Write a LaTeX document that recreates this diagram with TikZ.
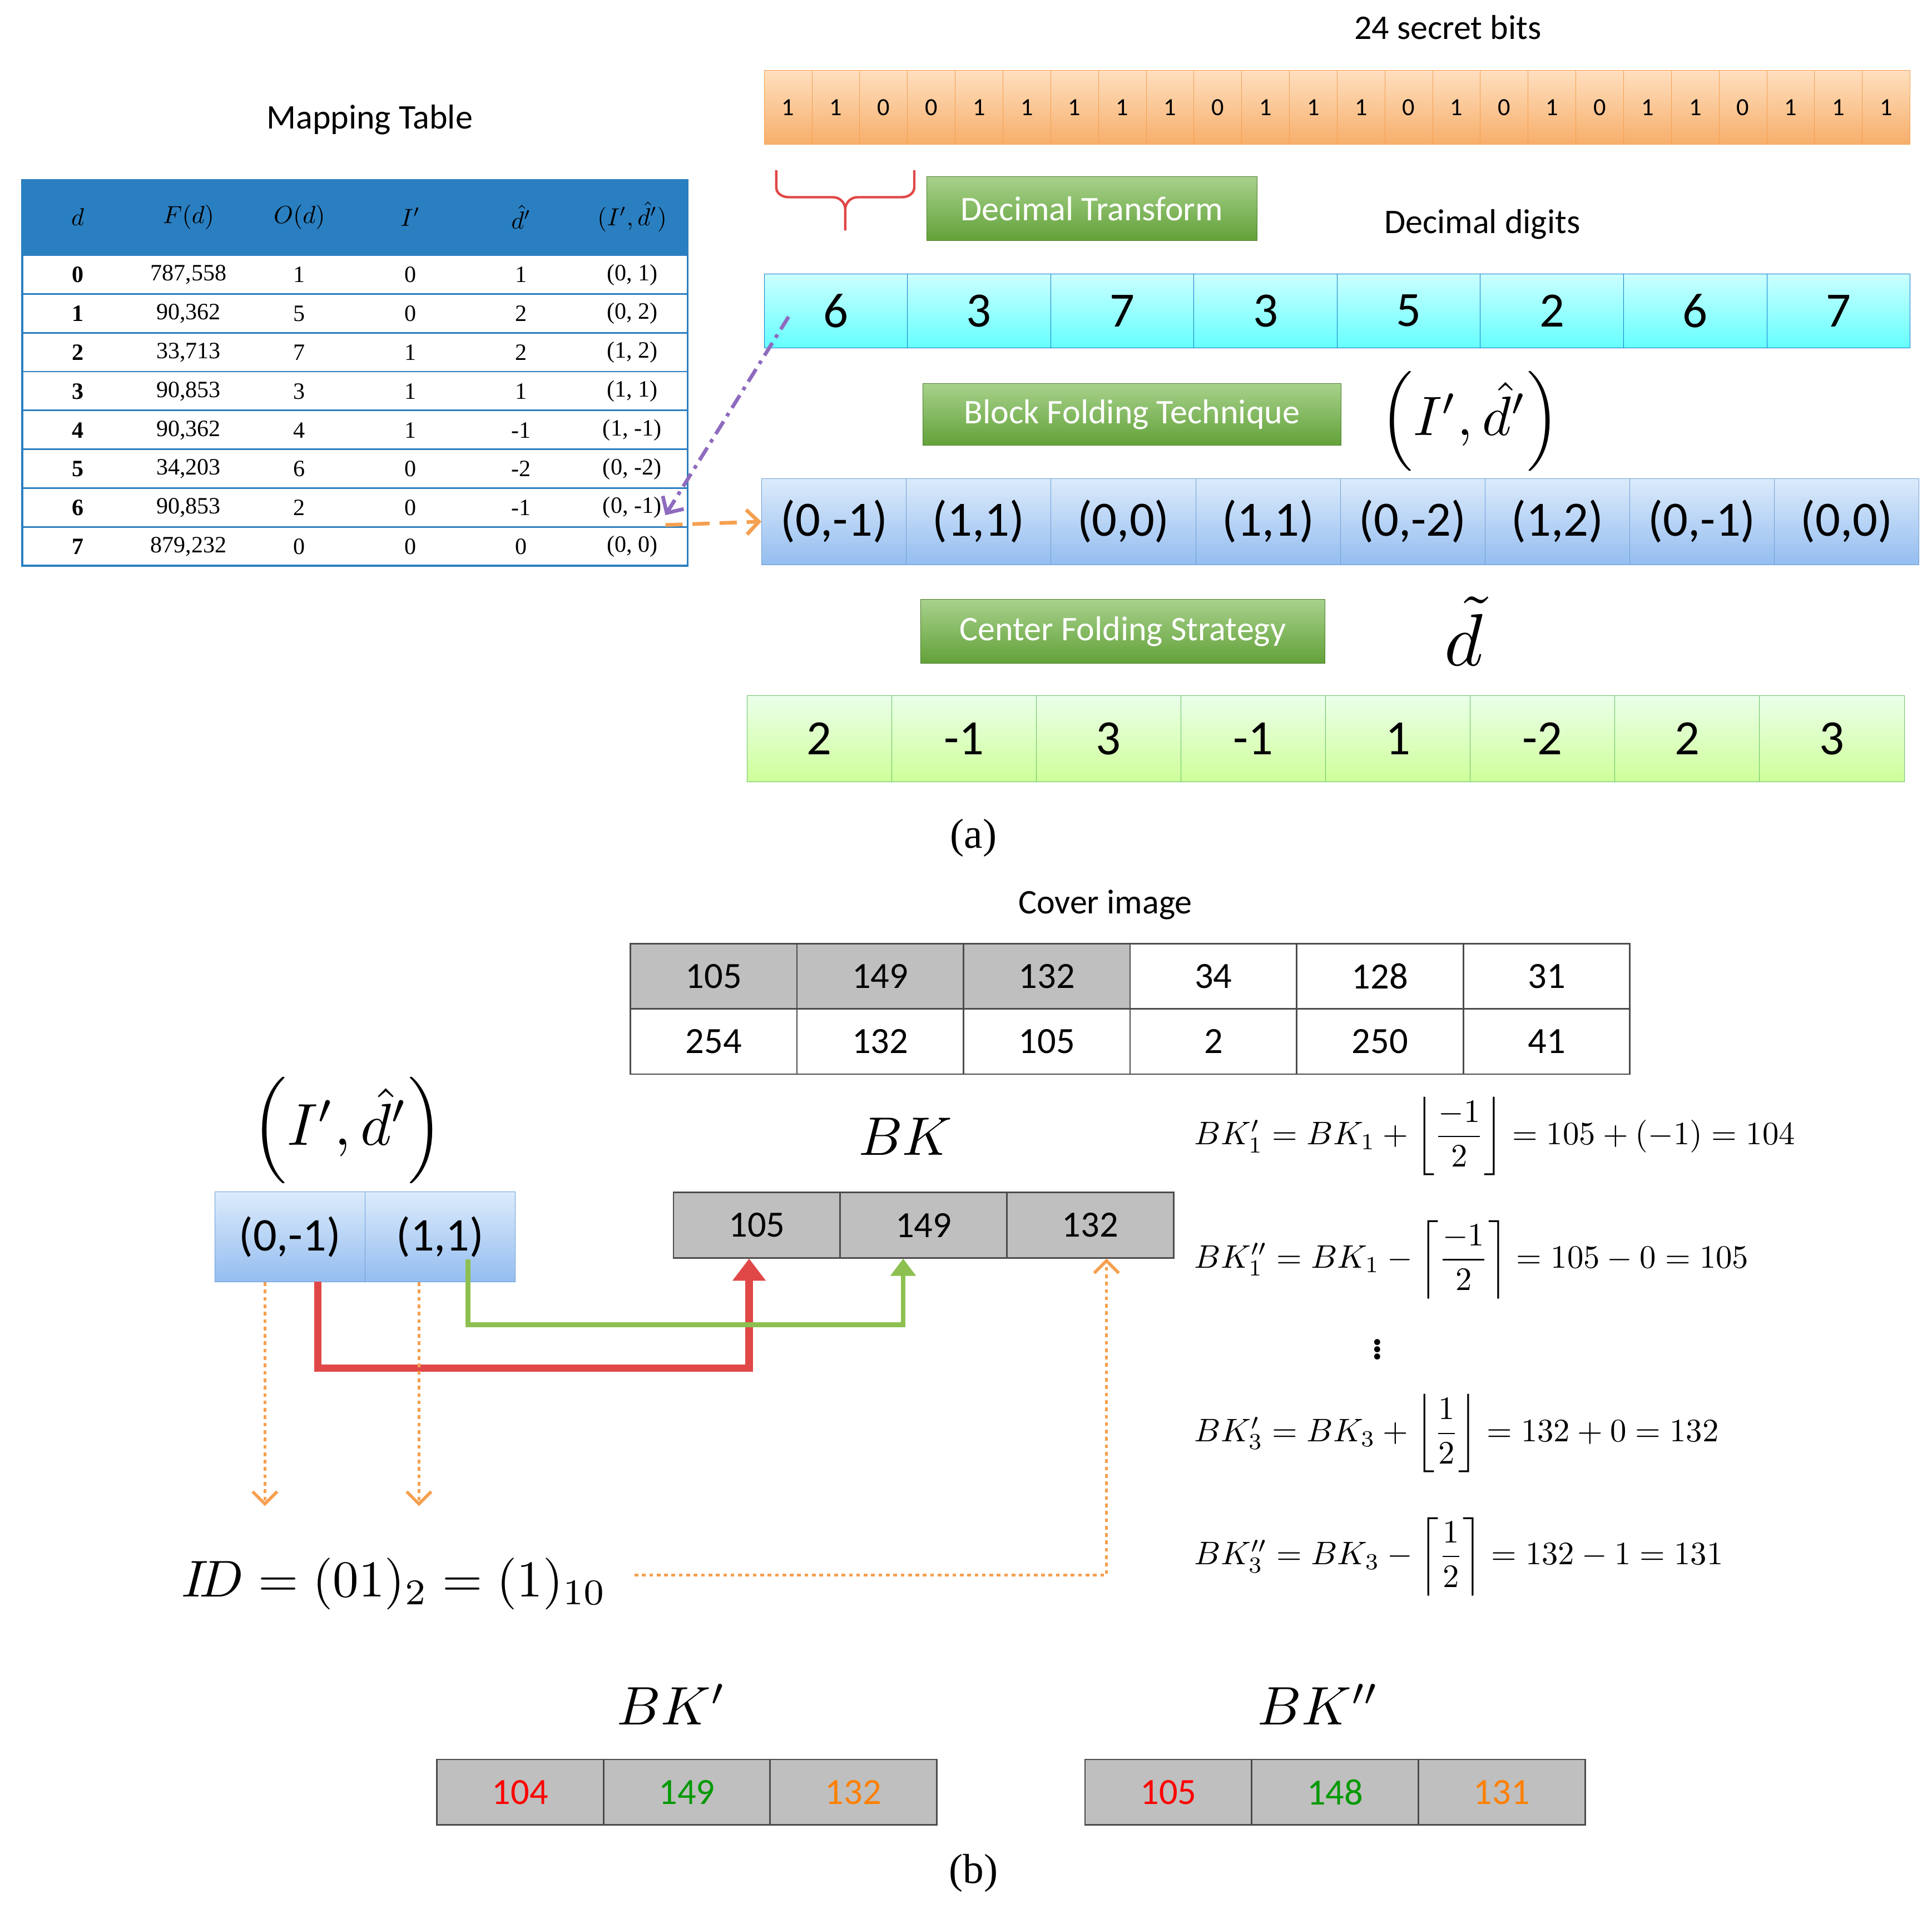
\documentclass[tikz,border=0pt]{standalone}
\usepackage{amsmath}
\usepackage{fontspec}
\setmainfont{Liberation Serif}
\newfontfamily\carl{Carlito}
\usetikzlibrary{arrows.meta}
\definecolor{tblue}{HTML}{2A7FC1}
\definecolor{gbox}{HTML}{6DB33F}
\definecolor{redl}{HTML}{E04848}
\definecolor{greenl}{HTML}{8DC050}
\definecolor{orl}{HTML}{F5A050}
\definecolor{purl}{HTML}{8E6BBE}
\definecolor{sk1}{HTML}{DCEBFB}
\definecolor{sk2}{HTML}{94BDF0}
\definecolor{sk3}{HTML}{6F9FD8}
\newcommand{\fs}[1]{\fontsize{#1}{#1}\selectfont}
\begin{document}
\begin{tikzpicture}[x=1pt,y=-1pt,
  cell/.style={draw=#1,inner sep=0,anchor=north west},
  lab/.style={font=\carl\fs{28}},
  gbtn/.style={draw=gbox!70!black,top color=gbox!60,bottom color=gbox!90!black,text=white,font=\carl\fs{28},inner sep=0,anchor=north west},
  tb/.style={font=\fs{19}},
  mth/.style={font=\fs{10},scale=#1},
  fm/.style={font=\fs{10},scale=2.65,anchor=west},
  sky/.style={cell=sk3,top color=sk1,bottom color=sk2},
  dots/.style={orl,line width=2.5pt,dash pattern=on 3pt off 3pt}]
\useasboundingbox (0,0) rectangle (1568,1548);
% top
\node[lab] (t24) at (1175,22) {24 secret bits};
\foreach \b [count=\i from 0] in {1,1,0,0,1,1,1,1,1,0,1,1,1,0,1,0,1,0,1,1,0,1,1,1}{
  \node[cell=orl,top color=orange!25,bottom color=orl!85,minimum width=38.75,minimum height=60,font=\carl\fs{20}] (b\i) at (620+38.75*\i,57) {\b};}
\node[lab] (mt) at (300,97) {Mapping Table};
% mapping table
\fill[tblue] (18,146) rectangle (558,207);
\draw[tblue,line width=1.5pt] (18,146) rectangle (558,459);
\foreach \i in {0,...,7}{\draw[tblue,line width=1.2pt] (18,207+31.5*\i) -- (558,207+31.5*\i);}
\foreach \t [count=\j from 0] in {{$d$},{$F(d)$},{$O(d)$},{$I'$},{$\hat d'$},{$(I',\hat d')$}}{
  \node[mth=2] (h\j) at (63+90*\j,176) {\t};}
\foreach \a/\b/\c/\d/\e/\f [count=\r from 0] in {0/{787,558}/1/0/1/{(0, 1)},1/{90,362}/5/0/2/{(0, 2)},2/{33,713}/7/1/2/{(1, 2)},3/{90,853}/3/1/1/{(1, 1)},4/{90,362}/4/1/-1/{(1, -1)},5/{34,203}/6/0/-2/{(0, -2)},6/{90,853}/2/0/-1/{(0, -1)},7/{879,232}/0/0/0/{(0, 0)}}{
  \node[tb,font=\bfseries\fs{19}] (r\r a) at (63,223+31.5*\r) {\a};
  \node[tb] (r\r b) at (153,223+31.5*\r) {\b};
  \node[tb] (r\r c) at (243,223+31.5*\r) {\c};
  \node[tb] (r\r d) at (333,223+31.5*\r) {\d};
  \node[tb] (r\r e) at (423,223+31.5*\r) {\e};
  \node[tb] (r\r f) at (513,223+31.5*\r) {\f};}
% brace
\draw[redl,line width=2pt] (630,138) -- (630,152) to[out=-90,in=180] (640,160) -- (676,160) to[out=0,in=90] (686,170) -- (686,187);
\draw[redl,line width=2pt] (686,170) to[out=90,in=180] (696,160) -- (732,160) to[out=0,in=-90] (742,152) -- (742,138);
\node[gbtn,minimum width=268,minimum height=52] (dt) at (752,143) {Decimal Transform};
\node[lab] (dd) at (1203,182) {Decimal digits};
\foreach \v [count=\i from 0] in {6,3,7,3,5,2,6,7}{
  \node[cell=cyan!60!blue,top color=cyan!20,bottom color=cyan!60,minimum width=116.25,minimum height=60,font=\carl\fs{40}] (c\i) at (620+116.25*\i,222) {\v};}
\node[gbtn,minimum width=339,minimum height=50] (bf) at (749,311) {Block Folding Technique};
\node[mth=4.5] (pid) at (1193,342) {$\left(I',\hat d'\right)$};
\foreach \v [count=\i from 0] in {{(0,-1)},{(1,1)},{(0,0)},{(1,1)},{(0,-2)},{(1,2)},{(0,-1)},{(0,0)}}{
  \node[sky,minimum width=117.4,minimum height=70,font=\carl\fs{40}] (p\i) at (618+117.4*\i,388) {\v};}
\node[gbtn,minimum width=328,minimum height=52] (cf) at (747,486) {Center Folding Strategy};
\node[mth=6] (dt2) at (1188,512) {$\tilde d$};
\foreach \v [count=\i from 0] in {2,-1,3,-1,1,-2,2,3}{
  \node[cell=green!60!black!60,top color=green!8,bottom color=green!30!lime!40,minimum width=117.4,minimum height=70,font=\carl\fs{40}] (g\i) at (606+117.4*\i,564) {\v};}
\node[font=\fs{34}] (la) at (790,680) {(a)};
\coordinate (pe) at (540,418);
\draw[purl,line width=3pt,dash pattern=on 12pt off 5pt on 3pt off 5pt,-{Straight Barb[length=10pt]}] (640,257) -- (pe);
\coordinate (os) at (540,426);
\draw[orl,line width=3pt,dash pattern=on 14pt off 8pt,-{Straight Barb[length=10pt]}] (os) -- (p0.west);
% bottom
\node[lab] (ci) at (897,734) {Cover image};
\foreach \v [count=\i from 0] in {105,149,132,34,128,31}{
  \pgfmathsetmacro\f{\i<3?25:0}
  \node[cell=black!70,fill=black!\f,line width=1.2pt,minimum width=135.2,minimum height=53,font=\carl\fs{30}] (u\i) at (511+135.2*\i,765) {\v};}
\foreach \v [count=\i from 0] in {254,132,105,2,250,41}{
  \node[cell=black!70,line width=1.2pt,minimum width=135.2,minimum height=53,font=\carl\fs{30}] (w\i) at (511+135.2*\i,818) {\v};}
\node[mth=4.8] (pid2) at (282,917) {$\left(I',\hat d'\right)$};
\node[sky,minimum width=122,minimum height=73,font=\carl\fs{38}] (q0) at (174,967) {(0,-1)};
\node[sky,minimum width=122,minimum height=73,font=\carl\fs{38}] (q1) at (296,967) {(1,1)};
\node[mth=4.4] (bk) at (735,922) {$BK$};
\foreach \v [count=\i from 0] in {105,149,132}{
  \node[cell=black!70,fill=black!25,line width=1.2pt,minimum width=135.3,minimum height=53,font=\carl\fs{30}] (k\i) at (546+135.3*\i,967) {\v};}
\coordinate (ra) at (258,1110); \coordinate (rb) at (608,1110);
\draw[redl,line width=6pt,-{Triangle[length=18pt,width=26pt]}] (258,1040) -- (ra) -- (rb) -- (k0.south -| rb);
\coordinate (ga) at (380,1075); \coordinate (gb) at (733,1075);
\draw[greenl,line width=4pt,-{Triangle[length=14pt,width=20pt]}] (380,1022) -- (ga) -- (gb) -- (k1.south -| gb);
\coordinate (d0) at (215,1222); \coordinate (d1) at (340,1222);
\draw[dots,-{Straight Barb[length=10pt,width=20pt]}] (q0.south -| d0) -- (d0);
\draw[dots,-{Straight Barb[length=10pt,width=20pt]}] (q1.south -| d1) -- (d1);
\node[mth=4.2] (id) at (320,1285) {$I\!D=(01)_2=(1)_{10}$};
\coordinate (ia) at (515,1278); \coordinate (ib) at (898,1278);
\draw[dots,-{Straight Barb[length=10pt,width=20pt]}] (ia) -- (ib) -- (k2.south -| ib);
\node[fm] (e1) at (960,922) {$BK_1'=BK_1+\left\lfloor\dfrac{-1}{2}\right\rfloor=105+(-1)=104$};
\node[fm] (e2) at (960,1022) {$BK_1''=BK_1-\left\lceil\dfrac{-1}{2}\right\rceil=105-0=105$};
\node[font=\bfseries\fs{30}] (vd) at (1118,1092) {$\vdots$};
\node[fm] (e3) at (960,1163) {$BK_3'=BK_3+\left\lfloor\dfrac{1}{2}\right\rfloor=132+0=132$};
\node[fm] (e4) at (960,1263) {$BK_3''=BK_3-\left\lceil\dfrac{1}{2}\right\rceil=132-1=131$};
\node[mth=4.4] (bk1) at (545,1383) {$BK'$};
\node[mth=4.4] (bk2) at (1070,1383) {$BK''$};
\foreach \v/\c [count=\i from 0] in {104/red,149/green!60!black,132/orange}{
  \node[cell=black!70,fill=black!25,line width=1.2pt,minimum width=135.2,minimum height=53,font=\carl\fs{30},text=\c] (m\i) at (354+135.2*\i,1427) {\v};}
\foreach \v/\c [count=\i from 0] in {105/red,148/green!60!black,131/orange}{
  \node[cell=black!70,fill=black!25,line width=1.2pt,minimum width=135.3,minimum height=53,font=\carl\fs{30},text=\c] (n\i) at (880+135.3*\i,1427) {\v};}
\node[font=\fs{34}] (lb) at (790,1520) {(b)};
\end{tikzpicture}
\end{document}
